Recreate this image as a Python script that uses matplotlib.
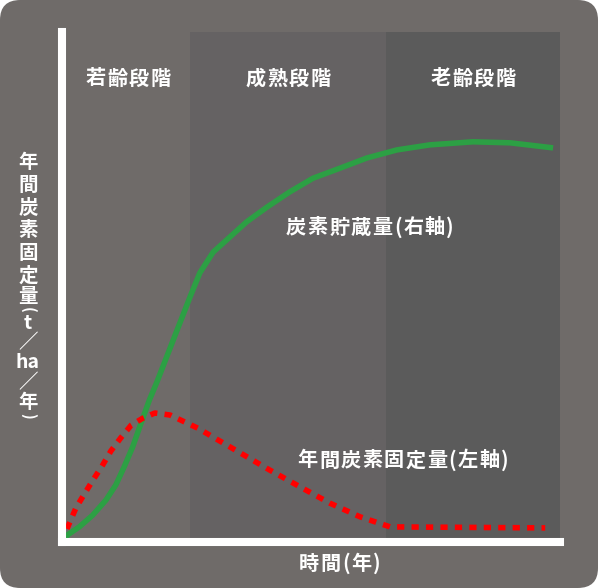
import matplotlib
matplotlib.use("Agg")
import matplotlib.pyplot as plt
from matplotlib.patches import FancyBboxPatch

plt.rcParams['font.family'] = ['Noto Sans CJK JP', 'DejaVu Sans']

# forest growth stages (x in % of the time span)
stage_names = ['若齢段階', '成熟段階', '老齢段階']
stage_edges = [0, 25.1, 64.8, 100]
stage_colors = ['#6f6b69', '#656263', '#5b5b5b']

# carbon stock (right axis)
stock_x = [0, 0.3, 2.7, 5.4, 8.1, 10.1, 11.8, 13.5, 15.2, 16.9, 18.4, 22.1, 25.1,
           27.1, 29.8, 33.2, 36.6, 40.7, 45.3, 50.0, 55.5, 60.9, 67.0, 73.7,
           82.4, 89.9, 98.6]
stock_y = [0, 0.6, 2.2, 4.5, 7.5, 10.5, 14.1, 18.0, 22.7, 27.3, 30.8, 40.1, 47.6,
           52.4, 56.5, 59.5, 62.5, 65.4, 68.4, 71.1, 73.1, 75.1, 76.7, 77.7,
           78.3, 78.1, 77.1]

# annual carbon fixation (left axis)
fix_x = [0.2, 2.0, 3.6, 5.5, 7.3, 9.1, 11.1, 13.2, 15.6, 18.0, 21.1, 24.1,
         26.7, 33.2, 41.3, 47.4, 53.4, 59.5, 65.6, 97.0]
fix_y = [1.8, 5.9, 8.5, 11.5, 14.2, 17.2, 19.8, 22.3, 23.7, 24.7, 24.3, 22.9,
         21.7, 18.0, 13.4, 10.1, 6.9, 4.2, 2.2, 2.0]

stock_label = '炭素貯蔵量(右軸)'
fix_label = '年間炭素固定量(左軸)'
xlabel = '時間(年)'
ylabel_chars = ['年', '間', '炭', '素', '固', '定', '量', '(', 't', '／', 'ha', '／', '年', ')']
ylabel_ypx = [162, 185, 208, 231, 254, 276, 297, 310, 324, 343, 363, 383, 402, 416]

W, H = 598, 588
fig = plt.figure(figsize=(W / 100, H / 100), dpi=100)
fig.patch.set_facecolor('white')
renderer = fig.canvas.get_renderer()


def spaced_text(x_px, y_px, s, gap=1.5, size=14.5):
    """draw s centred at (x_px, y_px) with extra spacing between characters"""
    pieces = [fig.text(0, 0, ch, color='white', fontsize=size, fontweight='bold',
                       ha='left', va='center') for ch in s]
    widths = [p.get_window_extent(renderer).width for p in pieces]
    total = sum(widths) + gap * (len(s) - 1)
    x = x_px - total / 2
    for p, w in zip(pieces, widths):
        p.set_position((x / W, 1 - y_px / H))
        x += w + gap


bg = FancyBboxPatch((0, 0), 1, 1, boxstyle="round,pad=0,rounding_size=0.034",
                    transform=fig.transFigure, facecolor=stage_colors[0],
                    edgecolor='none', zorder=-10)
fig.patches.append(bg)

# axes: spine centres at x=62px and y=541.5px, top at 32px, right at 560px
left, right, top, bottom = 62, 560, 32, 541.5
ax = fig.add_axes([left / W, 1 - bottom / H, (right - left) / W, (bottom - top) / H])
ax.set_facecolor('none')
ax.set_xlim(-0.8, 100)
ax.set_ylim(-0.69, 100)

for i in range(1, 3):
    ax.axvspan(stage_edges[i], stage_edges[i + 1], color=stage_colors[i], lw=0, zorder=0)

ax.plot(stock_x, stock_y, color='#2ca044', lw=4, solid_capstyle='butt',
        solid_joinstyle='round', zorder=3)
ax.plot(fix_x, fix_y, color='#ff0000', lw=4, linestyle=(0, (1.3, 1.3)), zorder=3)

for s in ['top', 'right']:
    ax.spines[s].set_visible(False)
for s in ['left', 'bottom']:
    ax.spines[s].set_color('white')
    ax.spines[s].set_linewidth(5.8)
    ax.spines[s].set_zorder(5)
ax.set_xticks([])
ax.set_yticks([])

# stage names centred in each band (band edges -> pixels)
for i, name in enumerate(stage_names):
    mid = (stage_edges[i] + stage_edges[i + 1]) / 2
    spaced_text(66 + mid * 4.94, 78, name)

spaced_text(370, 227, stock_label)
spaced_text(403, 460, fix_label)
spaced_text(340, 563, xlabel)

for ch, ypx in zip(ylabel_chars, ylabel_ypx):
    rot = -90 if ch in '()' else 0
    fig.text(28 / W, 1 - ypx / H, ch, color='white', fontsize=14 if rot == 0 else 11,
             fontweight='bold', ha='center', va='center', rotation=rot)

fig.savefig('out.png', dpi=100, facecolor='white')
